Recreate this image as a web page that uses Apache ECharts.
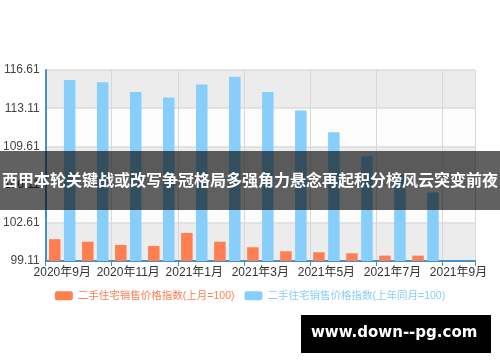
<!DOCTYPE html>
<html><head><meta charset="utf-8">
<script src="https://cdn.jsdelivr.net/npm/echarts@6/dist/echarts.min.js"></script>
<style>html,body{margin:0;padding:0;background:#fff;}#c{width:500px;height:362px;}</style>
</head><body><div id="c"></div>
<script>
var categories = ['2020年9月','2020年10月','2020年11月','2020年12月','2021年1月','2021年2月','2021年3月','2021年4月','2021年5月','2021年6月','2021年7月','2021年8月','2021年9月'];
var momName = '二手住宅销售价格指数(上月=100)';
var yoyName = '二手住宅销售价格指数(上年同月=100)';
var momValues = [101.11, 100.88, 100.58, 100.49, 101.68, 100.88, 100.37, 100.00, 99.91, 99.82, 99.60, 99.60, null];
var yoyValues = [115.69, 115.48, 114.59, 114.10, 115.29, 116.00, 114.59, 112.90, 110.91, 108.70, 107.02, 105.39, null];
var yMin = 99.11, yMax = 116.61, yStep = 3.5;
var bannerText = '西甲本轮关键战或改写争冠格局多强角力悬念再起积分榜风云突变前夜';
var watermarkText = 'www.down--pg.com';

var chart = echarts.init(document.getElementById('c'), null, {renderer:'canvas'});
chart.setOption({
  animation:false,
  color:['#FF7F50','#87CEFA'],
  textStyle:{fontFamily:'"Liberation Sans", Arial, "Noto Sans CJK SC", sans-serif'},
  grid:{left:42, right:25, top:70, bottom:101, containLabel:false},
  legend:{
    bottom:56, left:'center', itemWidth:18, itemHeight:9, itemGap:10,
    textStyle:{fontSize:10.5},
    data:[{name:momName, textStyle:{color:'#FF7F50'}},{name:yoyName, textStyle:{color:'#87CEFA'}}]
  },
  xAxis:{
    type:'category', data:categories, boundaryGap:true,
    axisLine:{lineStyle:{color:'#4a8fc6', width:2}},
    axisTick:{show:true, interval:1, lineStyle:{color:'#4a8fc6'}},
    axisLabel:{interval:1, color:'#333', fontSize:12, margin:6},
    splitLine:{show:true, interval:1, lineStyle:{color:'#d8d8d8'}}
  },
  yAxis:{
    type:'value', min:yMin, max:yMax, interval:yStep,
    axisLine:{show:true, lineStyle:{color:'#4a8fc6', width:2}},
    axisTick:{show:false},
    axisLabel:{color:'#444', fontSize:12, margin:6, formatter:function(v){return v.toFixed(2);}},
    splitLine:{show:true, lineStyle:{color:'#dcdcdc', width:1.5}},
    splitArea:{show:true, areaStyle:{color:['#ececec','#fcfcfc']}}
  },
  series:[
    {name:momName, type:'bar', data:momValues, barGap:'30%', barCategoryGap:'20%'},
    {name:yoyName, type:'bar', data:yoyValues, barGap:'30%', barCategoryGap:'20%'}
  ],
  graphic:[
    {type:'rect', left:0, top:151, shape:{width:500, height:59}, style:{fill:'rgba(0,0,0,0.62)'}, z:100},
    {type:'text', left:'center', top:172, style:{text:bannerText, fill:'#fff', font:'bold 16px "Noto Sans CJK SC", sans-serif'}, z:101},
    {type:'rect', left:301, top:315, shape:{width:190, height:38}, style:{fill:'#000'}, z:100},
    {type:'text', left:311, top:326, style:{text:watermarkText, fill:'#fff', font:'bold 15px "DejaVu Sans", sans-serif'}, z:101}
  ]
});
</script></body></html>
